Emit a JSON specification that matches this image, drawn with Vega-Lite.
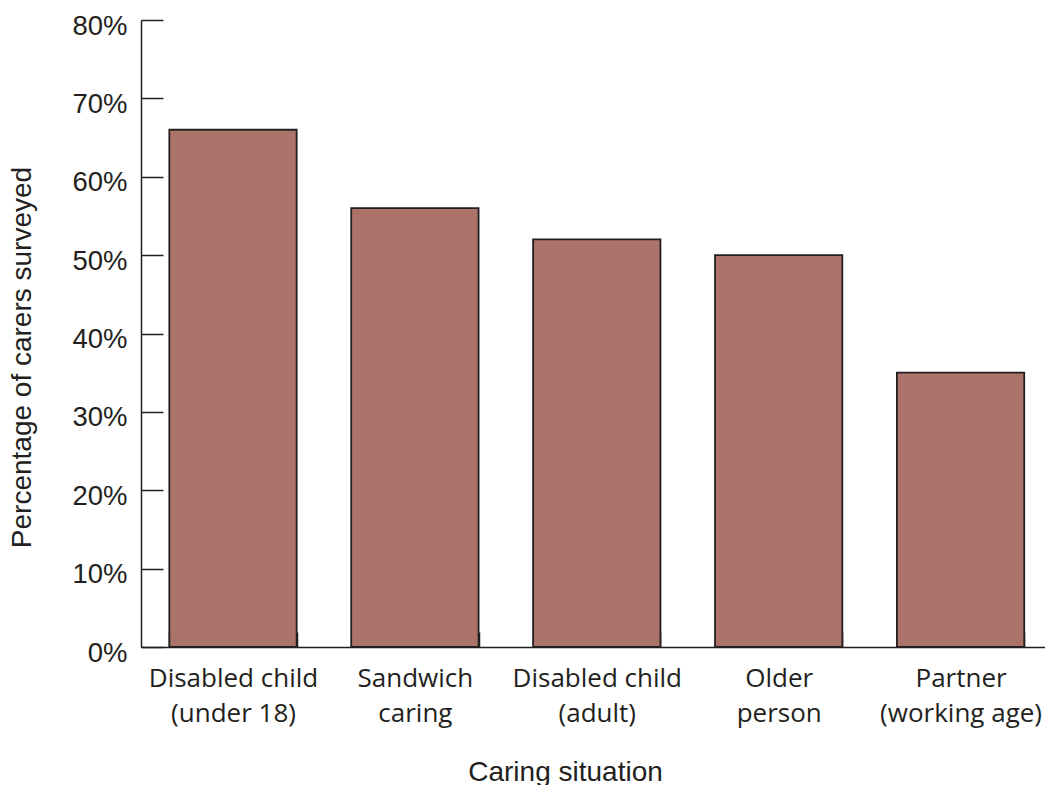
{
  "$schema": "https://vega.github.io/schema/vega-lite/v6.json",
  "autosize": "none",
  "width": 904,
  "height": 627,
  "padding": {"left": 141, "top": 20, "right": 0, "bottom": 138},
  "background": "white",
  "data": {
    "values": [
      {"situation": "Disabled child|(under 18)", "pct": 66},
      {"situation": "Sandwich|caring", "pct": 56},
      {"situation": "Disabled child|(adult)", "pct": 52},
      {"situation": "Older|person", "pct": 50},
      {"situation": "Partner|(working age)", "pct": 35}
    ]
  },
  "mark": {"type": "bar", "color": "#AC736B", "stroke": "#231F20", "strokeWidth": 1.8},
  "encoding": {
    "x": {
      "field": "situation",
      "type": "nominal",
      "sort": null,
      "scale": {"paddingInner": 0.3, "paddingOuter": 0.135, "align": 0.577},
      "axis": {
        "title": "Caring situation",
        "titleFont": "Liberation Sans",
        "titleFontSize": 28,
        "titleFontWeight": "normal",
        "titleColor": "#231F20",
        "titleX": 424,
        "titleY": 111,
        "titleBaseline": "top",
        "titleAlign": "center",
        "labelAngle": 0,
        "labelExpr": "split(datum.label, '|')",
        "labelFont": "Open Sans",
        "labelFontSize": 26,
        "labelLineHeight": 35,
        "labelColor": "#231F20",
        "labelBaseline": "top",
        "labelPadding": 33,
        "tickBand": "extent",
        "tickSize": -15,
        "tickColor": "#231F20",
        "tickWidth": 1.5,
        "domainColor": "#231F20",
        "domainWidth": 1.5
      }
    },
    "y": {
      "field": "pct",
      "type": "quantitative",
      "scale": {"domain": [0, 80], "nice": false},
      "axis": {
        "title": "Percentage of carers surveyed",
        "titleFont": "Liberation Sans",
        "titleFontSize": 28,
        "titleFontWeight": "normal",
        "titleColor": "#231F20",
        "titleX": -119,
        "titleY": 337,
        "titleAlign": "center",
        "titleBaseline": "middle",
        "values": [0, 10, 20, 30, 40, 50, 60, 70, 80],
        "labelExpr": "datum.value + '%'",
        "labelFont": "Liberation Sans",
        "labelFontSize": 27.5,
        "labelColor": "#231F20",
        "labelBaseline": "middle",
        "labelOffset": 6,
        "labelPadding": 36,
        "tickSize": -22,
        "tickColor": "#231F20",
        "tickWidth": 1.5,
        "domainColor": "#231F20",
        "domainWidth": 1.5,
        "grid": false
      }
    }
  },
  "config": {"view": {"stroke": null}}
}
